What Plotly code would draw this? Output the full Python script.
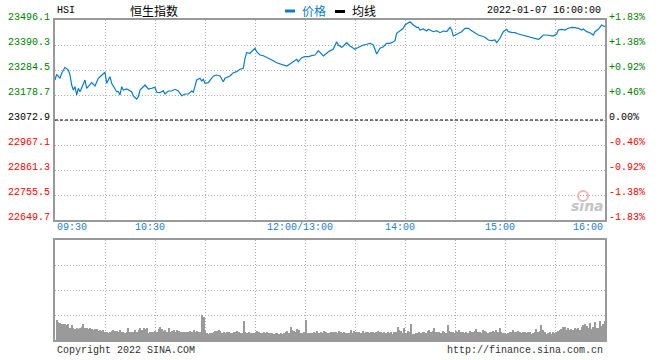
import plotly.graph_objects as go

# ---------------- data ----------------
prev_close = 23072.9
price_times = [
    "09:30","09:31","09:33","09:34","09:36","09:38","09:39","09:40","09:41","09:42",
    "09:43","09:44","09:45","09:46","09:48","09:49","09:51","09:52","09:54","09:56",
    "09:57","10:00","10:01","10:03","10:04","10:07","10:08","10:09","10:10","10:11",
    "10:13","10:16","10:17","10:19","10:20","10:21","10:24","10:26","10:28","10:30",
    "10:31","10:33","10:35","10:36","10:38","10:40","10:42","10:44","10:46","10:48",
    "10:50","10:52","10:53","10:54","10:55","10:57","10:58","10:59","11:00","11:02",
    "11:03","11:05","11:07","11:09","11:11","11:12","11:14","11:15","11:17","11:19",
    "11:21","11:23","11:24","11:25","11:27","11:29","11:30","11:31","11:33","11:35",
    "11:37","11:39","11:41","11:43","11:45","11:47","11:49","11:51","11:53","11:55",
    "11:56","11:58","12:00",
    "13:02","13:04","13:06","13:08","13:09","13:11","13:13","13:14","13:17","13:18",
    "13:19","13:20","13:22","13:23","13:25","13:27","13:28","13:30","13:31","13:33",
    "13:35","13:37","13:39","13:41","13:42","13:43","13:45","13:47","13:49","13:51",
    "13:53","13:54","13:55","13:57","13:59","14:00","14:02","14:03","14:05","14:07",
    "14:08","14:09","14:11","14:13","14:14","14:15","14:17","14:19","14:21","14:23",
    "14:25","14:27","14:28","14:29","14:31","14:33","14:34","14:36","14:38","14:40",
    "14:42","14:44","14:46","14:48","14:50","14:52","14:54","14:55","14:57","14:58",
    "14:59","15:01","15:02","15:04","15:06","15:08","15:10","15:12","15:14","15:16",
    "15:18","15:20","15:21","15:23","15:25","15:27","15:29","15:31","15:32","15:34",
    "15:36","15:38","15:40","15:42","15:44","15:46","15:47","15:49","15:51","15:53",
    "15:54","15:56","15:58","16:00",
]
price_values = [
    23242.2,23266.3,23249.4,23270.5,23295.9,23284.5,23263.3,23221.0,23199.9,23213.8,
    23178.7,23207.1,23192.7,23207.1,23242.2,23207.1,23221.0,23230.8,23216.8,23249.4,
    23256.1,23274.8,23228.2,23256.1,23228.2,23192.7,23192.7,23178.7,23213.8,23199.9,
    23204.1,23192.7,23174.5,23161.8,23171.5,23199.9,23221.0,23204.1,23207.1,23211.3,
    23190.1,23188.4,23196.9,23182.9,23195.6,23195.6,23202.8,23195.6,23175.7,23182.9,
    23182.9,23195.6,23190.1,23213.8,23242.2,23249.4,23237.9,23245.1,23228.2,23230.8,
    23242.2,23259.1,23263.3,23259.1,23235.0,23249.4,23256.1,23259.1,23273.1,23277.3,
    23287.5,23291.7,23334.0,23357.7,23355.2,23372.1,23376.3,23361.9,23348.0,23345.0,
    23338.2,23334.0,23323.9,23315.4,23309.9,23305.7,23301.4,23309.9,23319.6,23329.8,
    23319.6,23336.6,23340.8,
    23340.8,23345.0,23348.0,23366.2,23359.4,23343.7,23355.2,23361.9,23373.4,23386.1,
    23404.3,23390.3,23380.6,23386.1,23400.0,23386.1,23380.6,23372.1,23376.3,23383.1,
    23390.3,23393.3,23397.5,23390.3,23369.1,23352.2,23376.3,23383.1,23397.5,23397.5,
    23404.3,23408.5,23439.8,23450.8,23461.0,23474.9,23486.4,23488.9,23474.9,23465.2,
    23465.2,23453.8,23458.0,23449.5,23456.7,23453.8,23446.6,23450.8,23442.4,23449.5,
    23446.6,23465.2,23453.8,23428.4,23435.6,23439.8,23446.6,23461.0,23461.0,23450.8,
    23439.8,23432.6,23428.4,23422.9,23411.5,23408.5,23411.5,23400.0,23418.7,23436.9,
    23446.6,23456.7,23446.6,23444.0,23442.4,23436.9,23432.6,23428.4,23425.4,23422.9,
    23418.7,23414.4,23418.7,23432.6,23432.6,23429.7,23428.4,23436.9,23453.8,23456.7,
    23453.8,23461.0,23465.2,23463.5,23461.0,23453.8,23458.0,23446.6,23442.4,23432.6,
    23446.6,23456.7,23474.9,23467.7,
]
volume_values = [
    20,18,17,16,16,16,15,16,12,15,12,11,12,11,12,13,16,12,12,11,12,11,10,11,11,9,10,9,10,8,
    8,7,8,9,10,9,9,8,10,8,8,7,8,12,8,8,8,10,8,10,12,10,12,11,12,7,8,8,8,9,
    8,11,13,11,9,10,8,12,8,9,10,8,10,9,8,8,8,8,8,8,9,8,10,8,9,8,8,
    25,23,9,
    7,6,7,7,8,9,9,10,9,7,8,7,8,8,7,7,8,8,9,8,7,7,
    19,
    8,7,8,7,7,7,8,9,8,7,7,8,7,8,7,7,7,6,7,7,6,7,6,7,8,9,7,13,10,9,8,11,10,7,7,8,
    20,
    7,7,7,7,8,7,9,7,8,7,9,8,7,7,8,8,8,8,7,9,8,7,8,7,7,7,
    10,7,9,8,8,8,7,9,7,8,8,7,8,8,7,8,9,8,8,7,8,7,8,7,8,6,8,8,13,10,
    9,7,12,7,9,8,16,6,6,7,7,8,7,8,8,7,9,10,8,9,12,8,8,8,7,9,8,7,15,9,
    8,8,7,9,8,10,8,8,7,8,7,9,8,8,9,11,8,8,7,10,9,8,7,8,8,9,8,10,8,12,
    8,7,7,6,7,8,8,10,8,8,9,8,7,8,8,7,8,8,6,7,8,11,8,9,15,10,8,6,7,8,
    6,8,7,8,9,10,11,13,13,10,12,10,11,10,12,11,12,10,13,15,16,14,12,17,11,13,18,12,12,19,
    14,16,19,
]
left_ticks = [23496.1, 23390.3, 23284.5, 23178.7, 23072.9, 22967.1, 22861.3, 22755.5, 22649.7]
right_ticks = ["+1.83%", "+1.38%", "+0.92%", "+0.46%", "0.00%", "-0.46%", "-0.92%", "-1.38%", "-1.83%"]
time_tick_labels = ["09:30", "10:30", "12:00/13:00", "14:00", "15:00", "16:00"]
time_tick_times = ["09:30", "10:30", "12:00", "14:00", "15:00", "16:00"]
title_code = "HSI"
title_name = "恒生指数"
stamp = "2022-01-07 16:00:00"

SESSION = 330


def to_min(t):
    h, m = map(int, t.split(":"))
    total = h * 60 + m
    if total <= 12 * 60:
        return total - (9 * 60 + 30)
    return total - 13 * 60 + 150


px_x = [to_min(t) for t in price_times]
n_vol = len(volume_values)
vol_x = [(i + 1) * SESSION / n_vol for i in range(n_vol)]

# ---------------- figure ----------------
W, H = 660, 360
ML, MR, MT, MB = 55, 55, 20, 20
PW, PH = W - ML - MR, H - MT - MB


def fx(p):
    return (p - ML) / PW


def fy(p):
    return (H - MB - p) / PH


MONO = "Liberation Mono, DejaVu Sans Mono, monospace"
CJK = "Noto Sans CJK SC"
BLUE = "#0a7bcc"
GRID = "#aaaaaa"
BORDER = "#999999"

fig = go.Figure()
fig.add_trace(go.Scatter(x=px_x, y=price_values, mode="lines",
                         line=dict(color=BLUE, width=1.2), xaxis="x", yaxis="y",
                         hoverinfo="skip", showlegend=False))
fig.add_trace(go.Bar(x=vol_x, y=volume_values, width=0.7, marker=dict(color="#9a9a9a", line=dict(width=0)),
                     xaxis="x2", yaxis="y2", hoverinfo="skip", showlegend=False))

axis_common = dict(showgrid=True, gridcolor=GRID, griddash="1px,2px", gridwidth=1,
                   showline=True, linecolor=BORDER, linewidth=1.5, mirror=True,
                   zeroline=False, showticklabels=False, ticks="")

fig.update_layout(
    width=W, height=H,
    margin=dict(l=ML, r=MR, t=MT, b=MB, pad=0),
    paper_bgcolor="white", plot_bgcolor="white",
    bargap=0,
    xaxis=dict(domain=[0, 1], range=[0, SESSION], tickmode="linear", tick0=0, dtick=30,
               anchor="y", **axis_common),
    yaxis=dict(domain=[fy(220), 1], range=[left_ticks[-1], left_ticks[0]],
               tickmode="array", tickvals=left_ticks, anchor="x", **axis_common),
    xaxis2=dict(domain=[0, 1], range=[0, SESSION], tickmode="linear", tick0=0, dtick=30,
                anchor="y2", **axis_common),
    yaxis2=dict(domain=[0, fy(240)], range=[0, 100], tickmode="array", tickvals=[0, 25, 50, 75, 100],
                anchor="x2", **axis_common),
)

# previous close dashed line
fig.add_shape(type="line", xref="x", yref="y", x0=0, x1=SESSION, y0=prev_close, y1=prev_close,
              line=dict(color="black", width=1, dash="3px,2px"))

ann = []


def color_for(v):
    if abs(v - prev_close) < 0.05:
        return "black"
    return "#008000" if v > prev_close else "#ff0000"


for v, pct in zip(left_ticks, right_ticks):
    c = color_for(v)
    ann.append(dict(xref="paper", yref="y", x=fx(52), y=v, text=f"{v:.1f}", xanchor="right",
                    yanchor="middle", yshift=3, showarrow=False, font=dict(family=MONO, size=10, color=c)))
    ann.append(dict(xref="paper", yref="y", x=fx(607), y=v, text=pct, xanchor="left",
                    yanchor="middle", yshift=3, showarrow=False, font=dict(family=MONO, size=10, color=c)))

for i, (lab, t) in enumerate(zip(time_tick_labels, time_tick_times)):
    m = to_min(t)
    if i == 0:
        xa, sh = "left", 0
    elif i == len(time_tick_labels) - 1:
        xa, sh = "right", 0
    else:
        xa, sh = "center", -5
    ann.append(dict(xref="x", yref="paper", x=m, y=fy(227.5), text=lab, xanchor=xa, xshift=sh,
                    yanchor="middle", showarrow=False, font=dict(family=MONO, size=10, color="#1a80c8")))

# header
ann.append(dict(xref="paper", yref="paper", x=fx(55), y=fy(10), text=title_code, xanchor="left",
                yanchor="middle", showarrow=False, font=dict(family=MONO, size=10, color="black")))
ann.append(dict(xref="paper", yref="paper", x=fx(154), y=fy(10), text=title_name, xanchor="center",
                yanchor="middle", showarrow=False, font=dict(family=CJK, size=12, color="black")))
ann.append(dict(xref="paper", yref="paper", x=fx(300), y=fy(10), text="价格", xanchor="left",
                yanchor="middle", showarrow=False, font=dict(family=CJK, size=12, color=BLUE)))
ann.append(dict(xref="paper", yref="paper", x=fx(350), y=fy(10), text="均线", xanchor="left",
                yanchor="middle", showarrow=False, font=dict(family=CJK, size=12, color="black")))
ann.append(dict(xref="paper", yref="paper", x=fx(603), y=fy(10), text=stamp, xanchor="right",
                yanchor="middle", showarrow=False, font=dict(family=MONO, size=10, color="black")))

# footer
ann.append(dict(xref="paper", yref="paper", x=fx(55), y=fy(350), text="Copyright 2022 SINA.COM",
                xanchor="left", yanchor="middle", showarrow=False,
                font=dict(family=MONO, size=10, color="#333333")))
ann.append(dict(xref="paper", yref="paper", x=fx(605), y=fy(350), text="http://finance.sina.com.cn",
                xanchor="right", yanchor="middle", showarrow=False,
                font=dict(family=MONO, size=10, color="#333333")))

# sina watermark
ann.append(dict(xref="paper", yref="paper", x=fx(587), y=fy(206), text="<b><i>sina</i></b>",
                xanchor="center", yanchor="middle", showarrow=False,
                font=dict(family="DejaVu Sans", size=14, color="#c4c4c4")))

fig.update_layout(annotations=ann)

# legend markers
fig.add_shape(type="rect", xref="paper", yref="paper", x0=fx(285), x1=fx(295), y0=fy(12.5), y1=fy(9.5),
              line=dict(width=0), fillcolor=BLUE)
fig.add_shape(type="rect", xref="paper", yref="paper", x0=fx(335), x1=fx(345), y0=fy(13), y1=fy(10),
              line=dict(width=0), fillcolor="black")
# watermark eye
fig.add_shape(type="circle", xref="paper", yref="paper", x0=fx(578), x1=fx(588), y0=fy(201), y1=fy(191),
              line=dict(color="#f2b8b8", width=2), fillcolor="rgba(0,0,0,0)")

fig.write_html("out.html", config={"displayModeBar": False},
               post_script="document.body.style.margin='0';document.body.style.padding='0';")
